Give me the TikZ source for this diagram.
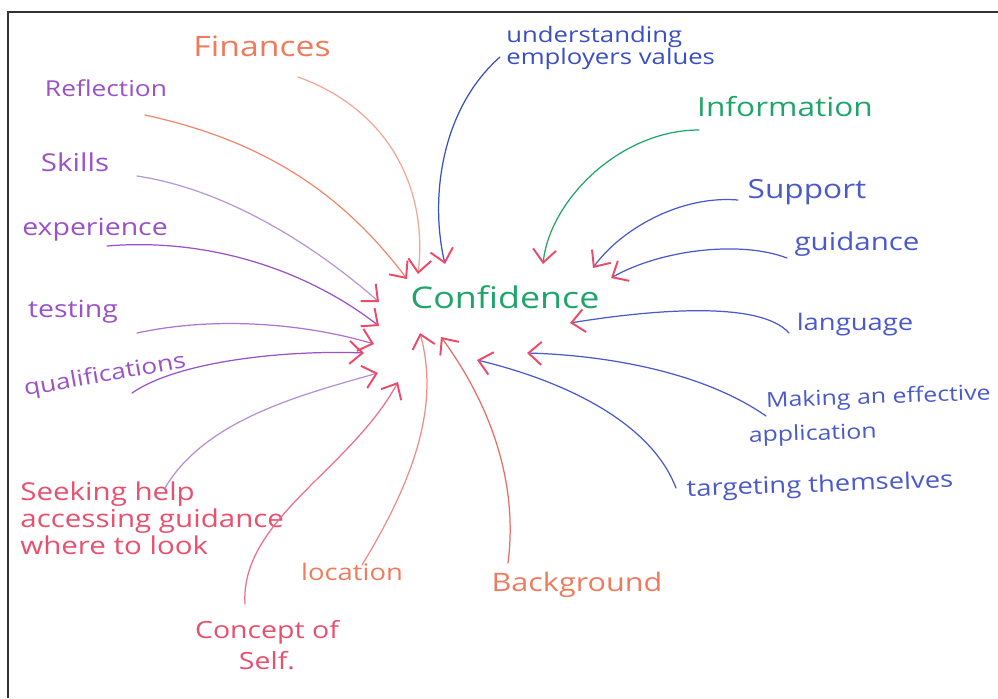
\documentclass[tikz,border=0pt]{standalone}
\usepackage{fontspec}
\newfontfamily\hand[FakeStretch=1.2]{Open Sans}
\usetikzlibrary{arrows.meta}
% hand font at a size (pt) with a line spacing (pt)
\newcommand\hsz[2]{\fontsize{#1pt}{#2pt}\selectfont}

% ink colours
\definecolor{inkgreen}{RGB}{31,165,106}
\definecolor{inkpurple}{RGB}{155,82,200}
\definecolor{inklilac}{RGB}{184,150,218}
\definecolor{inksalmon}{RGB}{239,123,94}
\definecolor{inkpalesalmon}{RGB}{243,165,150}
\definecolor{inkrose}{RGB}{232,80,110}
\definecolor{inkpink}{RGB}{234,110,136}
\definecolor{inkblue}{RGB}{74,90,203}
\definecolor{inkdeepblue}{RGB}{58,79,196}
\definecolor{tipred}{RGB}{236,74,104}

\begin{document}
\begin{tikzpicture}[x=0.02cm,y=-0.02cm,
  lbl/.style={font=\hand, inner sep=0pt},
  link/.style={line width=0.7pt, line cap=round,
    -{Straight Barb[length=2.6mm,width=4.6mm,color=tipred,line width=1.1pt]}},
  frame/.style={draw=black!80, line width=0.8pt}]

\useasboundingbox (0,0) rectangle (998,698);
\fill[white] (0,0) rectangle (998,698);
\draw[frame] (8,698) -- (8,12) -- (998,12);

% central idea
\node[lbl, text=inkgreen, font={\hand\hsz{17}{20}}] (conf) at (505,297) {Confidence};

% surrounding factors
\node[lbl, text=inksalmon, font={\hand\hsz{16}{19}}] (fin) at (262,46) {Finances};
\node[lbl, text=inkpurple, font={\hand\hsz{12.5}{15}}] (refl) at (106,88) {Reflection};
\node[lbl, text=inkpurple, font={\hand\hsz{14}{17}}] (skills) at (75,162) {Skills};
\node[lbl, text=inkpurple, font={\hand\hsz{13.5}{16}}] (exp) at (95,230) {experience};
\node[lbl, text=inkpurple, font={\hand\hsz{13.5}{16}}] (test) at (73,312) {testing};
\node[lbl, text=inkpurple, font={\hand\hsz{12.5}{15}}, rotate=10] (qual) at (105,376) {qualifications};
\node[lbl, text=inkrose, font={\hand\hsz{14}{15.5}}, align=left, anchor=north west] (seek) at (20,481)
  {Seeking help\\accessing guidance\\where to look};
\node[lbl, text=inkrose, font={\hand\hsz{13.5}{18}}, align=center] (self) at (267,645) {Concept of\\Self.};
\node[lbl, text=inksalmon, font={\hand\hsz{13}{16}}] (loc) at (352,572) {location};
\node[lbl, text=inksalmon, font={\hand\hsz{14.5}{17}}] (back) at (577,585) {Background};
\node[lbl, text=inkblue, font={\hand\hsz{13}{16}}, rotate=2] (target) at (820,486) {targeting themselves};
\node[lbl, text=inkblue, font={\hand\hsz{11.8}{19.5}}, align=left, anchor=north west, rotate=2] (make) at (747,392)
  {\hspace*{10.5pt}Making an effective\\application};
\node[lbl, text=inkblue, font={\hand\hsz{13}{16}}] (lang) at (855,325) {language};
\node[lbl, text=inkblue, font={\hand\hsz{14}{17}}] (guid) at (857,244) {guidance};
\node[lbl, text=inkblue, font={\hand\hsz{15}{18}}] (supp) at (807,192) {Support};
\node[lbl, text=inkgreen, font={\hand\hsz{15}{18}}] (info) at (785,107) {Information};
\node[lbl, text=inkdeepblue, font={\hand\hsz{12.2}{12.5}}, align=left, anchor=north west] (emp) at (506,26)
  {understanding\\employers values};

% where each stroke leaves its label
\coordinate (finS) at (298,77);
\coordinate (reflS) at (145,115);
\coordinate (skillsS) at (137,176);
\coordinate (expS) at (107,246);
\coordinate (testS) at (137,333);
\coordinate (qualS) at (132,393);
\coordinate (seekS) at (165,488);
\coordinate (selfS) at (245,604);
\coordinate (locS) at (362,565);
\coordinate (backS) at (508,563);
\coordinate (targetS) at (676,488);
\coordinate (makeS) at (766,416);
\coordinate (langS) at (789,333);
\coordinate (guidS) at (787,258);
\coordinate (suppS) at (738,200);
\coordinate (infoS) at (699,130);
\coordinate (empS) at (500,57);

% arrow tips gathered round the central idea
\coordinate (finT) at (418,274);
\coordinate (reflT) at (407,279);
\coordinate (skillsT) at (379,302);
\coordinate (expT) at (379,326);
\coordinate (testT) at (374,344);
\coordinate (qualT) at (364,353);
\coordinate (seekT) at (378,373);
\coordinate (selfT) at (398,382);
\coordinate (locT) at (420,333);
\coordinate (backT) at (441,337);
\coordinate (targetT) at (477,360);
\coordinate (makeT) at (527,353);
\coordinate (langT) at (570,323);
\coordinate (guidT) at (611,278);
\coordinate (suppT) at (593,268);
\coordinate (infoT) at (543,264);
\coordinate (empT) at (445,264);

\draw[link, draw=inkpalesalmon] (finS) .. controls (390,110) and (428,190) .. (finT);
\draw[link, draw=inksalmon!90] (reflS) .. controls (260,140) and (340,190) .. (reflT);
\draw[link, draw=inklilac] (skillsS) .. controls (230,190) and (320,250) .. (skillsT);
\draw[link, draw=inkpurple] (expS) .. controls (200,238) and (300,265) .. (expT);
\draw[link, draw=inkpurple!80] (testS) .. controls (220,315) and (310,325) .. (testT);
\draw[link, draw=inkpurple] (qualS) .. controls (180,360) and (290,350) .. (qualT);
\draw[link, draw=inklilac!90!inkpurple] (seekS) .. controls (205,420) and (300,395) .. (seekT);
\draw[link, draw=inkpink] (selfS) .. controls (240,520) and (350,470) .. (selfT);
\draw[link, draw=inkpalesalmon!70!inkrose] (locS) .. controls (420,470) and (438,400) .. (locT);
\draw[link, draw=inksalmon!60!inkrose] (backS) .. controls (520,470) and (480,390) .. (backT);
\draw[link, draw=inkblue] (targetS) .. controls (650,420) and (560,380) .. (targetT);
\draw[link, draw=inkblue] (makeS) .. controls (700,370) and (600,355) .. (makeT);
\draw[link, draw=inkblue] (langS) .. controls (760,300) and (650,310) .. (langT);
\draw[link, draw=inkblue] (guidS) .. controls (740,240) and (660,250) .. (guidT);
\draw[link, draw=inkblue] (suppS) .. controls (680,195) and (620,230) .. (suppT);
\draw[link, draw=inkgreen] (infoS) .. controls (620,130) and (550,200) .. (infoT);
\draw[link, draw=inkdeepblue] (empS) .. controls (440,110) and (430,200) .. (empT);
\end{tikzpicture}
\end{document}
